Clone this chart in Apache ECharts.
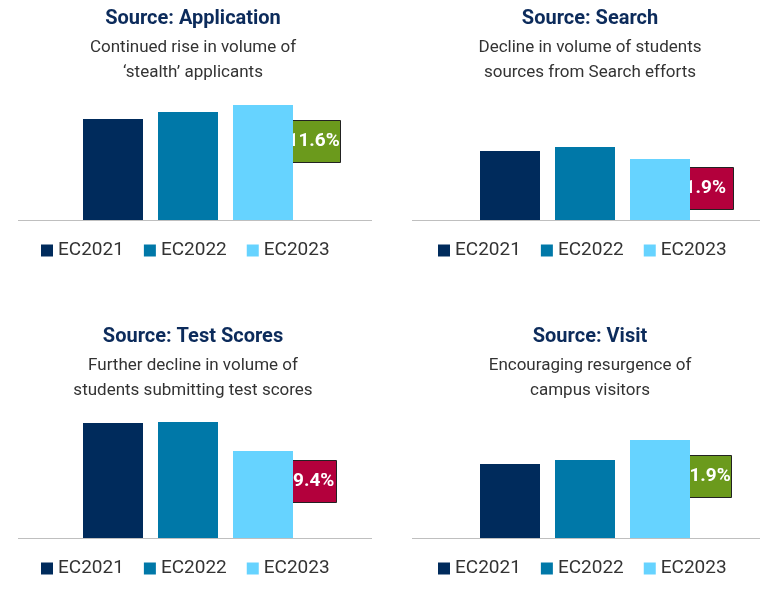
<!DOCTYPE html>
<html>
<head>
<meta charset="utf-8"/>
<script src="https://cdn.jsdelivr.net/npm/echarts@6/dist/echarts.min.js"></script>
<style>html,body{margin:0;background:#fff}#c{width:780px;height:591px}</style>
</head>
<body>
<div id="c"></div>
<script>
var years = ['EC2021', 'EC2022', 'EC2023'];
var colors = ['#002b5c', '#0078a8', '#66d3ff'];
var titles = ['Source: Application', 'Source: Search', 'Source: Test Scores', 'Source: Visit'];
var subtitles = [
  'Continued rise in volume of\n\u2018stealth\u2019 applicants',
  'Decline in volume of students\nsources from Search efforts',
  'Further decline in volume of\nstudents submitting test scores',
  'Encouraging resurgence of\ncampus visitors'
];
var values = [
  [101, 108, 115],
  [69, 73, 61],
  [115, 116, 87],
  [74, 78, 98]
];
var changes = ['+11.6%', '-1.9%', '-19.4%', '+21.9%'];

var panels = [
  {cx: 188, base: 220, line: [18, 372], badge: [276, 120]},
  {cx: 585, base: 220, line: [412, 760], badge: [669, 167]},
  {cx: 188, base: 538, line: [18, 372], badge: [272, 460]},
  {cx: 585, base: 538, line: [412, 760], badge: [667, 455]}
];

var option = {animation: false, title: [], grid: [], xAxis: [], yAxis: [], series: [], legend: [], graphic: []};
panels.forEach(function (p, i) {
  option.title.push({
    text: titles[i], subtext: subtitles[i], left: p.cx, top: p.base - 216, textAlign: 'center',
    textStyle: {fontFamily: 'Roboto', fontSize: 20, fontWeight: 'bold', color: '#0c2b5b'},
    subtextStyle: {fontFamily: 'Roboto', fontSize: 17, color: '#333', lineHeight: 25},
    itemGap: 6
  });
  option.grid.push({left: p.cx - 112, width: 224, top: p.base - 125, height: 125});
  option.xAxis.push({type: 'category', gridIndex: i, data: ['x'], show: false});
  option.yAxis.push({type: 'value', gridIndex: i, min: 0, max: 125, show: false});
  years.forEach(function (y, k) {
    option.series.push({
      type: 'bar', name: y, xAxisIndex: i, yAxisIndex: i, barWidth: 60, barGap: '25%',
      itemStyle: {color: colors[k]}, data: [values[i][k]]
    });
  });
  option.legend.push({
    data: years, left: p.cx - 152, top: p.base + 16, icon: 'rect', itemWidth: 12, itemHeight: 12,
    itemGap: 20, textStyle: {fontFamily: 'Roboto', fontSize: 19, color: '#333'}
  });
  option.graphic.push({
    type: 'line', shape: {x1: p.line[0], y1: p.base + 0.5, x2: p.line[1], y2: p.base + 0.5},
    style: {stroke: '#bfbfbf', lineWidth: 1}, z: 10
  });
  var pos = changes[i].charAt(0) === '+';
  option.graphic.push({
    type: 'group', left: p.badge[0], top: p.badge[1], z: 20,
    children: [
      {type: 'rect', shape: {width: 64, height: 42}, style: {fill: pos ? '#6b9a1c' : '#b3003c', stroke: '#222', lineWidth: 1}},
      {type: 'text', x: 32, y: 21, style: {text: changes[i], fill: '#fff', font: 'bold 19px Roboto', align: 'center', verticalAlign: 'middle'}}
    ]
  });
});
echarts.init(document.getElementById('c')).setOption(option);
</script>
</body>
</html>
